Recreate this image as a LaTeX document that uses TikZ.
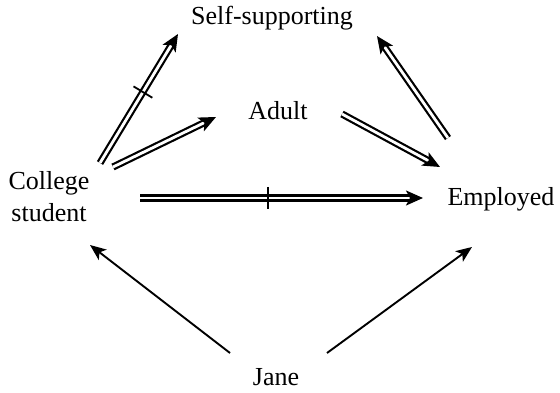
\documentclass[tikz,border=0pt]{standalone}
\usepackage{fontspec}
\setmainfont{Liberation Serif}
\usetikzlibrary{arrows.meta,calc}
\begin{document}
\begin{tikzpicture}[x=1pt,y=-1pt,
  label/.style={font=\fontsize{26}{32}\selectfont, inner sep=0pt, align=center},
  dbl/.style={double, double distance=2.8pt, line width=2.2pt,
              -{Stealth[length=17pt,width=15pt,inset=4pt]}},
  sgl/.style={line width=1.9pt, -{Stealth[length=16pt,width=13pt,inset=4pt]}},
  tickline/.style={line width=1.8pt}]
\useasboundingbox (0,0) rectangle (560,393);

% statements
\node[label, anchor=base] (ss)    at (272,25)  {Self-supporting};
\node[label, anchor=base] (adult) at (278,120) {Adult};
\node[label]              (cs)    at (49,197)  {College\\student};
\node[label, anchor=base] (emp)   at (501,206) {Employed};
\node[label, anchor=base] (jane)  at (276,385) {Jane};

% connector ends
\coordinate (cs-ss-a)   at (100,163);
\coordinate (cs-ss-b)   at (178,34);
\coordinate (cs-ad-a)   at (113,167);
\coordinate (cs-ad-b)   at (216,117);
\coordinate (ad-em-a)   at (342,114);
\coordinate (ad-em-b)   at (440,167);
\coordinate (em-ss-a)   at (448,138);
\coordinate (em-ss-b)   at (377,36);
\coordinate (cs-em-a)   at (140,198);
\coordinate (cs-em-b)   at (423,198);
\coordinate (ja-cs-a)   at (230,353);
\coordinate (ja-cs-b)   at (90,245);
\coordinate (ja-em-a)   at (327,353);
\coordinate (ja-em-b)   at (472,247);

% inheritance links
\draw[dbl] (cs-ss-a) -- (cs-ss-b) coordinate[pos=0.55] (t1);
\draw[dbl] (cs-ad-a) -- (cs-ad-b);
\draw[dbl] (ad-em-a) -- (ad-em-b);
\draw[dbl] (em-ss-a) -- (em-ss-b);
\draw[dbl] (cs-em-a) -- (cs-em-b) coordinate[pos=0.452] (t2);

% cancellation ticks
\draw[tickline] ($(t1)!11pt!90:(cs-ss-b)$) -- ($(t1)!11pt!-90:(cs-ss-b)$);
\draw[tickline] ($(t2)!11pt!90:(cs-em-b)$) -- ($(t2)!11pt!-90:(cs-em-b)$);

% instance links
\draw[sgl] (ja-cs-a) -- (ja-cs-b);
\draw[sgl] (ja-em-a) -- (ja-em-b);
\end{tikzpicture}
\end{document}
